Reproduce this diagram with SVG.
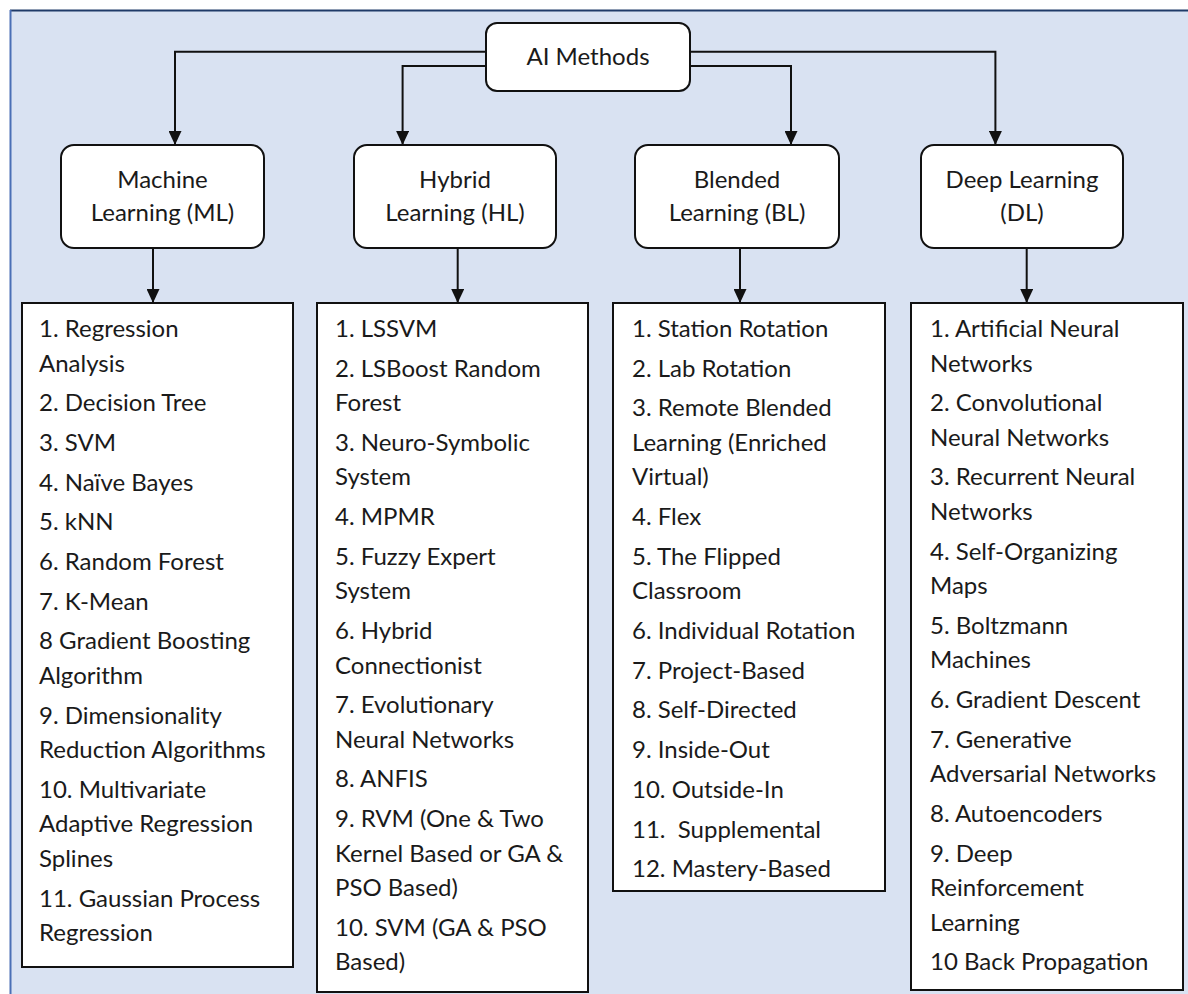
<svg xmlns="http://www.w3.org/2000/svg" width="1188" height="994" viewBox="0 0 1188 994">
<style>
.t{font-family:Lato,"Liberation Sans",sans-serif;font-size:24px;fill:#1a1a1a}
.c{text-anchor:middle}
.hb{fill:#ffffff;stroke:#111111;stroke-width:2}
.lb{fill:#ffffff;stroke:#111111;stroke-width:2}
.cn{fill:none;stroke:#111111;stroke-width:2}
</style>
<defs>
<marker id="ah" viewBox="0 0 14 13" refX="14" refY="6.5" markerWidth="14" markerHeight="13" markerUnits="userSpaceOnUse" orient="auto">
<path d="M0,0 L14,6.5 L0,13 z" fill="#111111"/>
</marker>
</defs>
<rect x="0" y="0" width="1188" height="994" fill="#ffffff"/>
<rect x="10" y="10" width="1190" height="1000" fill="#d9e2f2"/>
<line x1="10" y1="10.5" x2="1188" y2="10.5" stroke="#1f3a68" stroke-width="2"/>
<line x1="10.5" y1="10" x2="10.5" y2="994" stroke="#4a6fb5" stroke-width="2"/>

<g id="connectors">
<path class="cn" d="M486,51.7 H175 V145" marker-end="url(#ah)"/>
<path class="cn" d="M486,66 H402.6 V145" marker-end="url(#ah)"/>
<path class="cn" d="M690,66 H791 V145" marker-end="url(#ah)"/>
<path class="cn" d="M690,51.7 H995.4 V145" marker-end="url(#ah)"/>
<path class="cn" d="M153,248 V303" marker-end="url(#ah)"/>
<path class="cn" d="M457.7,248 V303" marker-end="url(#ah)"/>
<path class="cn" d="M740,248 V303" marker-end="url(#ah)"/>
<path class="cn" d="M1026.7,248 V303" marker-end="url(#ah)"/>
</g>

<g id="ai-methods">
<rect class="hb" x="486" y="23" width="204" height="68" rx="11"/>
<text class="t c" x="588" y="65">AI Methods</text>
</g>

<g id="ml">
<rect class="hb" x="61" y="145" width="203" height="103" rx="13"/>
<text class="t c" x="162.5" y="188">Machine</text>
<text class="t c" x="162.5" y="221">Learning (ML)</text>
</g>
<g id="hl">
<rect class="hb" x="354" y="145" width="202" height="103" rx="13"/>
<text class="t c" x="455" y="188">Hybrid</text>
<text class="t c" x="455" y="221">Learning (HL)</text>
</g>
<g id="bl">
<rect class="hb" x="635" y="145" width="204" height="103" rx="13"/>
<text class="t c" x="737" y="188">Blended</text>
<text class="t c" x="737" y="221">Learning (BL)</text>
</g>
<g id="dl">
<rect class="hb" x="921" y="145" width="202" height="103" rx="13"/>
<text class="t c" x="1022" y="188">Deep Learning</text>
<text class="t c" x="1022" y="221">(DL)</text>
</g>

<g id="ml-list">
<rect class="lb" x="22" y="303" width="271" height="664"/>
<text class="t" x="39" y="337">1. Regression</text>
<text class="t" x="39" y="371.5">Analysis</text>
<text class="t" x="39" y="411.2">2. Decision Tree</text>
<text class="t" x="39" y="450.9">3. SVM</text>
<text class="t" x="39" y="490.6">4. Naïve Bayes</text>
<text class="t" x="39" y="530.3">5. kNN</text>
<text class="t" x="39" y="570">6. Random Forest</text>
<text class="t" x="39" y="609.7">7. K-Mean</text>
<text class="t" x="39" y="649.4">8 Gradient Boosting</text>
<text class="t" x="39" y="683.9">Algorithm</text>
<text class="t" x="39" y="723.6">9. Dimensionality</text>
<text class="t" x="39" y="758.1">Reduction Algorithms</text>
<text class="t" x="39" y="797.8">10. Multivariate</text>
<text class="t" x="39" y="832.3">Adaptive Regression</text>
<text class="t" x="39" y="866.8">Splines</text>
<text class="t" x="39" y="906.5">11. Gaussian Process</text>
<text class="t" x="39" y="941">Regression</text>
</g>

<g id="hl-list">
<rect class="lb" x="317" y="303" width="271" height="689"/>
<text class="t" x="335" y="337">1. LSSVM</text>
<text class="t" x="335" y="376.7">2. LSBoost Random</text>
<text class="t" x="335" y="411.2">Forest</text>
<text class="t" x="335" y="450.9">3. Neuro-Symbolic</text>
<text class="t" x="335" y="485.4">System</text>
<text class="t" x="335" y="525.1">4. MPMR</text>
<text class="t" x="335" y="564.8">5. Fuzzy Expert</text>
<text class="t" x="335" y="599.3">System</text>
<text class="t" x="335" y="639">6. Hybrid</text>
<text class="t" x="335" y="673.5">Connectionist</text>
<text class="t" x="335" y="713.2">7. Evolutionary</text>
<text class="t" x="335" y="747.7">Neural Networks</text>
<text class="t" x="335" y="787.4">8. ANFIS</text>
<text class="t" x="335" y="827.1">9. RVM (One &amp; Two</text>
<text class="t" x="335" y="861.6">Kernel Based or GA &amp;</text>
<text class="t" x="335" y="896.1">PSO Based)</text>
<text class="t" x="335" y="935.8">10. SVM (GA &amp; PSO</text>
<text class="t" x="335" y="970.3">Based)</text>
</g>

<g id="bl-list">
<rect class="lb" x="613" y="303" width="272" height="588"/>
<text class="t" x="632" y="337">1. Station Rotation</text>
<text class="t" x="632" y="376.7">2. Lab Rotation</text>
<text class="t" x="632" y="416.4">3. Remote Blended</text>
<text class="t" x="632" y="450.9">Learning (Enriched</text>
<text class="t" x="632" y="485.4">Virtual)</text>
<text class="t" x="632" y="525.1">4. Flex</text>
<text class="t" x="632" y="564.8">5. The Flipped</text>
<text class="t" x="632" y="599.3">Classroom</text>
<text class="t" x="632" y="639">6. Individual Rotation</text>
<text class="t" x="632" y="678.7">7. Project-Based</text>
<text class="t" x="632" y="718.4">8. Self-Directed</text>
<text class="t" x="632" y="758.1">9. Inside-Out</text>
<text class="t" x="632" y="797.8">10. Outside-In</text>
<text class="t" x="632" y="837.5">11.&#160; Supplemental</text>
<text class="t" x="632" y="877.2">12. Mastery-Based</text>
</g>

<g id="dl-list">
<rect class="lb" x="911" y="303" width="272" height="687"/>
<text class="t" x="930" y="337">1. Artificial Neural</text>
<text class="t" x="930" y="371.5">Networks</text>
<text class="t" x="930" y="411.2">2. Convolutional</text>
<text class="t" x="930" y="445.7">Neural Networks</text>
<text class="t" x="930" y="485.4">3. Recurrent Neural</text>
<text class="t" x="930" y="519.9">Networks</text>
<text class="t" x="930" y="559.6">4. Self-Organizing</text>
<text class="t" x="930" y="594.1">Maps</text>
<text class="t" x="930" y="633.8">5. Boltzmann</text>
<text class="t" x="930" y="668.3">Machines</text>
<text class="t" x="930" y="708">6. Gradient Descent</text>
<text class="t" x="930" y="747.7">7. Generative</text>
<text class="t" x="930" y="782.2">Adversarial Networks</text>
<text class="t" x="930" y="821.9">8. Autoencoders</text>
<text class="t" x="930" y="861.6">9. Deep</text>
<text class="t" x="930" y="896.1">Reinforcement</text>
<text class="t" x="930" y="930.6">Learning</text>
<text class="t" x="930" y="970.3">10 Back Propagation</text>
</g>
</svg>
